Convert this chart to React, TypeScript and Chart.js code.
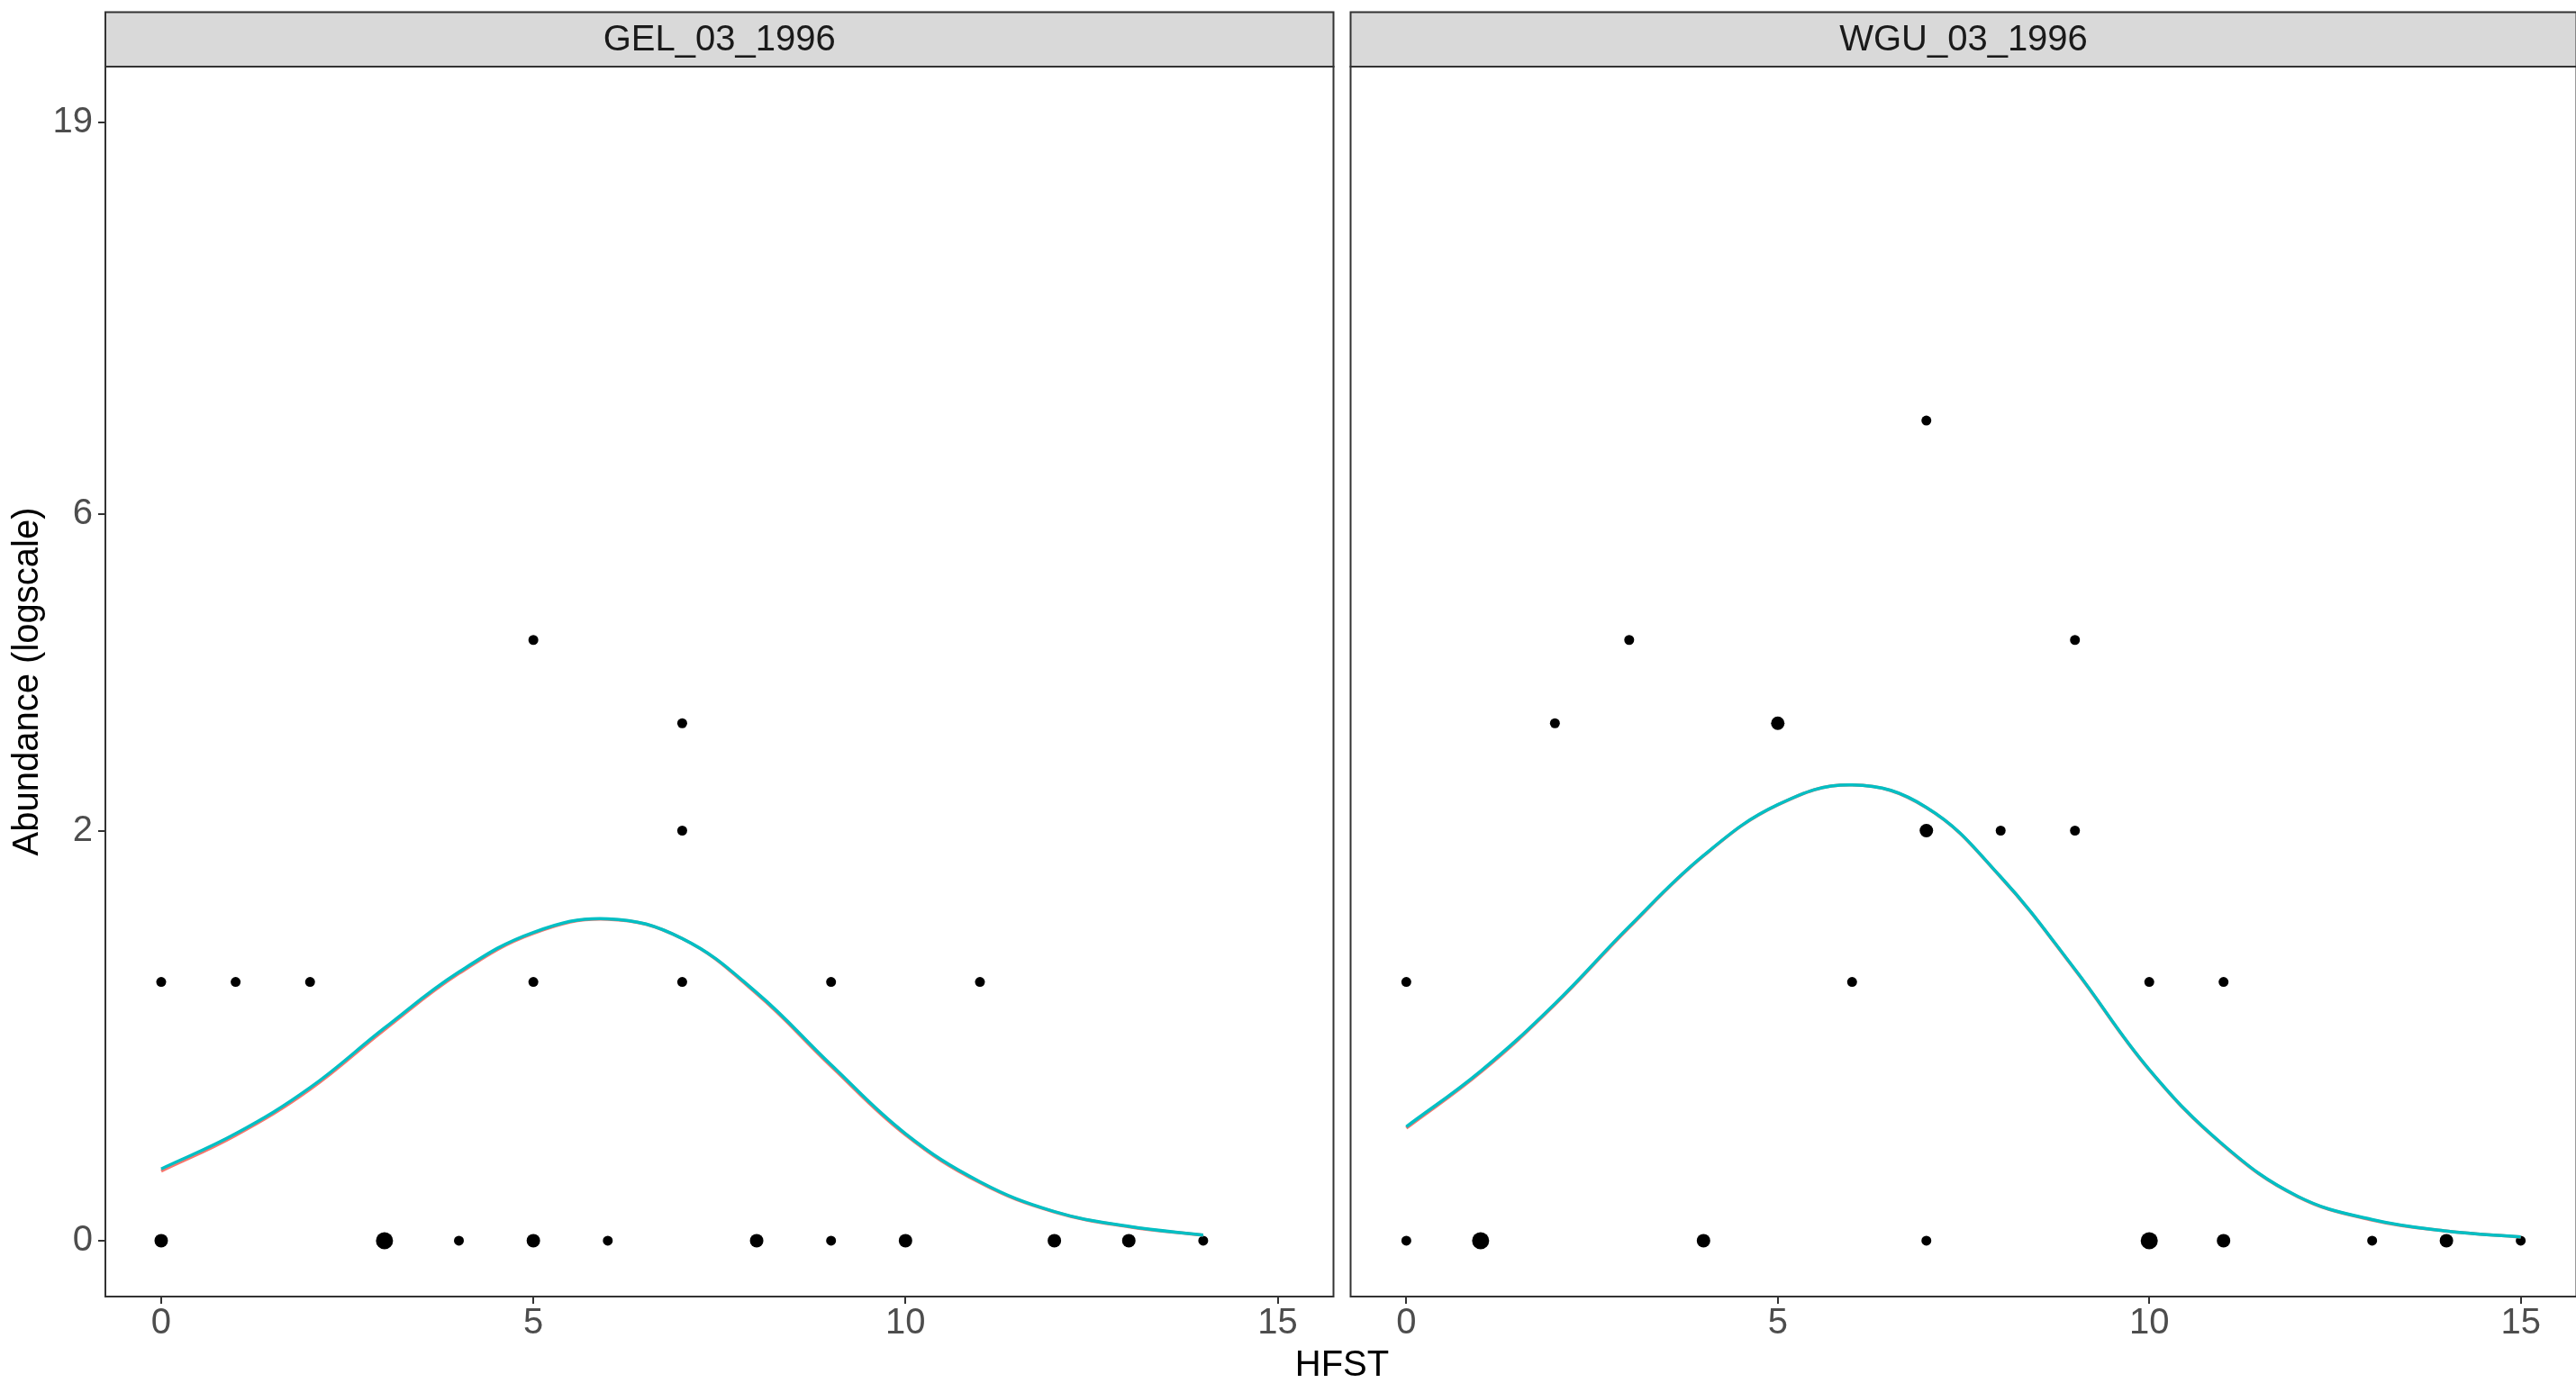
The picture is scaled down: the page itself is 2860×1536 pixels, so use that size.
import React, { useEffect, useRef } from "react";
import { Chart, registerables } from "chart.js";

Chart.register(...registerables);

const FONT = '"Liberation Sans", Arial, Helvetica, sans-serif';

// Facet labels
const facetLabels = ["GEL_03_1996", "WGU_03_1996"];

// Axis ticks (y ticks are in abundance units, drawn on a log(1 + y) axis)
const xTicks = [0, 5, 10, 15];
const yTicks = [0, 2, 6, 19];

// GEL_03_1996 observations: HFST, abundance, number of overlapping observations
const gelX = [0, 3, 4, 5, 6, 8, 9, 10, 12, 13, 14, 0, 1, 2, 5, 7, 9, 11, 7, 7, 5];
const gelY = [0, 0, 0, 0, 0, 0, 0, 0, 0, 0, 0, 1, 1, 1, 1, 1, 1, 1, 2, 3, 4];
const gelN = [2, 3, 1, 2, 1, 2, 1, 2, 2, 2, 1, 1, 1, 1, 1, 1, 1, 1, 1, 1, 1];

// WGU_03_1996 observations
const wguX = [0, 1, 4, 7, 10, 11, 13, 14, 15, 0, 6, 10, 11, 7, 8, 9, 2, 5, 3, 9, 7];
const wguY = [0, 0, 0, 0, 0, 0, 0, 0, 0, 1, 1, 1, 1, 2, 2, 2, 3, 3, 4, 4, 8];
const wguN = [1, 3, 2, 1, 3, 2, 1, 2, 1, 1, 1, 1, 1, 2, 1, 1, 1, 2, 1, 1, 1];

// Fitted abundance curves (two model fits per site)
const gelFitX = [0, 1, 2, 3, 4, 5, 6, 7, 8, 9, 10, 11, 12, 13, 14];
const gelFitA = [0.205, 0.326, 0.5, 0.76, 1.046, 1.278, 1.366, 1.246, 0.938, 0.596, 0.328, 0.168, 0.08, 0.038, 0.015];
const gelFitB = [0.212, 0.332, 0.507, 0.768, 1.054, 1.284, 1.369, 1.247, 0.944, 0.602, 0.332, 0.171, 0.081, 0.039, 0.015];

const wguFitX = [0, 1, 2, 3, 4, 5, 6, 7, 8, 9, 10, 11, 12, 13, 14, 15];
const wguFitA = [0.352, 0.57, 0.882, 1.315, 1.803, 2.214, 2.39, 2.19, 1.648, 1.066, 0.58, 0.29, 0.125, 0.057, 0.026, 0.01];
const wguFitB = [0.357, 0.575, 0.887, 1.32, 1.807, 2.216, 2.391, 2.193, 1.651, 1.069, 0.582, 0.292, 0.126, 0.058, 0.026, 0.01];

const RADIUS: Record<number, number> = { 1: 5.5, 2: 7.5, 3: 9.5 };

const toAxis = (v: number) => Math.log1p(v);
const Y_TOP = toAxis(Math.max(...yTicks));
const Y_MIN = -0.05 * Y_TOP;
const Y_MAX = 1.05 * Y_TOP;
const X_MIN = -0.05 * 15;
const X_MAX = 15 + 0.05 * 15;

const STRIP_TOP = 13.5;
const PANEL_TOP = 74;
const X_AXIS_H = 96;

const stripPlugin = {
  id: "facetStrip",
  afterDraw(chart: any, _args: any, opts: any) {
    const { ctx, chartArea } = chart;
    const l = chartArea.left;
    const r = chartArea.right;
    ctx.save();
    ctx.fillStyle = "#D9D9D9";
    ctx.fillRect(l, STRIP_TOP, r - l, chartArea.top - STRIP_TOP);
    ctx.strokeStyle = "#333333";
    ctx.lineWidth = 2;
    ctx.strokeRect(l, STRIP_TOP, r - l, chartArea.top - STRIP_TOP);
    ctx.fillStyle = "#1A1A1A";
    ctx.font = `40px ${FONT}`;
    ctx.textAlign = "center";
    ctx.textBaseline = "middle";
    ctx.fillText(opts.text, (l + r) / 2, (STRIP_TOP + chartArea.top) / 2 + 1);
    ctx.restore();
  },
};

const borderPlugin = {
  id: "panelBorder",
  afterDatasetsDraw(chart: any) {
    const { ctx, chartArea } = chart;
    ctx.save();
    ctx.strokeStyle = "#333333";
    ctx.lineWidth = 2;
    ctx.strokeRect(chartArea.left, chartArea.top, chartArea.right - chartArea.left, chartArea.bottom - chartArea.top);
    ctx.restore();
  },
};

type FacetProps = {
  label: string;
  xs: number[];
  ys: number[];
  ns: number[];
  fitX: number[];
  fitA: number[];
  fitB: number[];
  left: number;
  width: number;
  padLeft: number;
  padRight: number;
  showY: boolean;
};

function Facet(p: FacetProps) {
  const ref = useRef<HTMLCanvasElement | null>(null);

  useEffect(() => {
    if (!ref.current) return;
    const tickGrid = {
      display: true,
      drawOnChartArea: false,
      drawTicks: true,
      tickLength: 8,
      color: "#333333",
      lineWidth: 2,
    };
    const chart = new Chart(ref.current, {
      type: "scatter",
      data: {
        datasets: [
          {
            data: p.xs.map((x, i) => ({ x, y: toAxis(p.ys[i]) })),
            pointRadius: (ctx: any) => RADIUS[p.ns[ctx.dataIndex]] ?? 5.5,
            pointBackgroundColor: "#000000",
            pointBorderWidth: 0,
            order: 3,
          },
          {
            data: p.fitX.map((x, i) => ({ x, y: toAxis(p.fitA[i]) })),
            showLine: true,
            pointRadius: 0,
            borderColor: "#F8766D",
            borderWidth: 3.5,
            tension: 0.4,
            order: 2,
          },
          {
            data: p.fitX.map((x, i) => ({ x, y: toAxis(p.fitB[i]) })),
            showLine: true,
            pointRadius: 0,
            borderColor: "#00BFC4",
            borderWidth: 3.5,
            tension: 0.4,
            order: 1,
          },
        ],
      },
      options: {
        animation: false,
        responsive: false,
        devicePixelRatio: 1,
        events: [],
        layout: { padding: { left: p.padLeft, right: p.padRight, top: PANEL_TOP, bottom: 0 } },
        plugins: {
          legend: { display: false },
          tooltip: { enabled: false },
          facetStrip: { text: p.label },
        } as any,
        scales: {
          x: {
            type: "linear",
            min: X_MIN,
            max: X_MAX,
            afterBuildTicks: (s: any) => {
              s.ticks = xTicks.map((v) => ({ value: v }));
            },
            afterFit: (s: any) => {
              s.height = X_AXIS_H;
            },
            grid: tickGrid,
            border: { display: false },
            ticks: {
              color: "#4D4D4D",
              font: { size: 40, family: FONT, lineHeight: 1 },
              padding: 2,
              maxRotation: 0,
              callback: (v: any) => String(v),
            },
          },
          y: {
            type: "linear",
            display: p.showY,
            min: Y_MIN,
            max: Y_MAX,
            afterBuildTicks: (s: any) => {
              s.ticks = yTicks.map((v) => ({ value: toAxis(v) }));
            },
            afterFit: (s: any) => {
              s.width = p.showY ? 117 : 0;
            },
            grid: tickGrid,
            border: { display: false },
            ticks: {
              color: "#4D4D4D",
              font: { size: 40, family: FONT, lineHeight: 1 },
              padding: 6,
              callback: (v: any) => String(Math.round(Math.expm1(Number(v)))),
            },
            title: {
              display: true,
              text: "Abundance (logscale)",
              color: "#000000",
              font: { size: 40, family: FONT, lineHeight: 1.2 },
              padding: { top: 7, bottom: 0 },
            },
          },
        },
      } as any,
      plugins: [stripPlugin, borderPlugin],
    });
    return () => chart.destroy();
  }, []);

  return (
    <canvas
      ref={ref}
      width={p.width}
      height={1536}
      style={{ position: "absolute", left: p.left, top: 0, width: p.width, height: 1536 }}
    />
  );
}

export default function App() {
  return (
    <div
      style={{
        position: "absolute",
        left: 0,
        top: 0,
        width: 2860,
        height: 1536,
        overflow: "hidden",
        background: "#FFFFFF",
      }}
    >
      <Facet
        label={facetLabels[0]}
        xs={gelX}
        ys={gelY}
        ns={gelN}
        fitX={gelFitX}
        fitA={gelFitA}
        fitB={gelFitB}
        left={0}
        width={1490}
        padLeft={0}
        padRight={6.9}
        showY={true}
      />
      <Facet
        label={facetLabels[1]}
        xs={wguX}
        ys={wguY}
        ns={wguN}
        fitX={wguFitX}
        fitA={wguFitA}
        fitB={wguFitB}
        left={1490}
        width={1380}
        padLeft={8.5}
        padRight={5.3}
        showY={false}
      />
      <div
        style={{
          position: "absolute",
          left: 1290,
          width: 400,
          top: 1494,
          height: 40,
          lineHeight: "40px",
          fontSize: 40,
          fontFamily: FONT,
          color: "#000000",
          textAlign: "center",
        }}
      >
        HFST
      </div>
    </div>
  );
}
